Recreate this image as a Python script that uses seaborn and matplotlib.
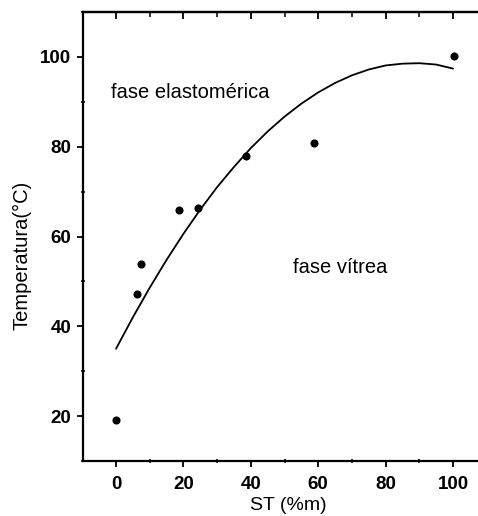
import matplotlib
matplotlib.use("Agg")
import matplotlib.pyplot as plt
from matplotlib.ticker import MultipleLocator
import pandas as pd
import seaborn as sns

# measured points
st_pct = [0, 6.2, 7.4, 18.7, 24.3, 38.6, 58.8, 100.3]
temp_c = [19.1, 47.1, 53.8, 66.0, 66.4, 78.0, 80.9, 100.2]

# fitted curve
curve_x = [0, 5, 10, 15, 20, 25, 30, 35, 40, 45, 50, 55, 60, 65, 70, 75, 80, 85, 90, 95, 100]
curve_y = [35.0, 42.0, 48.6, 54.8, 60.6, 66.0, 71.0, 75.5, 79.7, 83.4, 86.7, 89.6, 92.1, 94.2, 95.9, 97.2, 98.1, 98.5, 98.6, 98.3, 97.4]


def main():
    sns.set_style("ticks", {"axes.edgecolor": "black", "text.color": "black",
                            "xtick.color": "black", "ytick.color": "black",
                            "axes.labelcolor": "black"})
    plt.rcParams["font.family"] = ["Liberation Sans", "DejaVu Sans"]

    pts = pd.DataFrame({"st": st_pct, "temp": temp_c})
    fit = pd.DataFrame({"st": curve_x, "temp": curve_y})

    fig = plt.figure(figsize=(4.78, 5.16), dpi=100)
    ax = fig.add_axes([0.1736, 0.1066, 0.8264, 0.8701])

    sns.lineplot(data=fit, x="st", y="temp", color="black", linewidth=1.3, ax=ax)
    sns.scatterplot(data=pts, x="st", y="temp", color="black", s=34,
                    edgecolor="black", linewidth=0, ax=ax)

    ax.set_xlim(-9.8, 107.4)
    ax.set_ylim(10, 110)

    ax.xaxis.set_major_locator(MultipleLocator(20))
    ax.xaxis.set_minor_locator(MultipleLocator(10))
    ax.yaxis.set_major_locator(MultipleLocator(20))
    ax.yaxis.set_minor_locator(MultipleLocator(10))
    ax.set_xticks(range(0, 101, 20))
    ax.set_yticks(range(20, 101, 20))

    ax.tick_params(axis="both", which="major", direction="out", length=4.5,
                   width=1.3, labelsize=13.5, pad=4)
    ax.tick_params(axis="both", which="minor", direction="inout", length=3.5, width=1.1)
    ax.tick_params(axis="x", which="major", pad=6)
    # top axis: ticks pointing into the plot, no labels
    top = ax.secondary_xaxis("top")
    top.set_xticks(range(0, 101, 20))
    top.xaxis.set_minor_locator(MultipleLocator(10))
    top.tick_params(which="major", direction="in", length=5, width=1.3, labeltop=False)
    top.tick_params(which="minor", direction="in", length=3.5, width=1.1)
    top.set_xticklabels([])
    top.spines["top"].set_linewidth(1.6)

    for t in ax.get_xticklabels() + ax.get_yticklabels():
        t.set_fontweight("bold")

    for side in ["left", "bottom", "top"]:
        ax.spines[side].set_linewidth(1.6)
    ax.spines["right"].set_visible(False)

    ax.set_xlabel("ST (%m)", fontsize=14)
    ax.xaxis.set_label_coords(0.519, -0.081)
    ax.set_ylabel("Temperatura(°C)", fontsize=14.5)
    ax.yaxis.set_label_coords(-0.13, 0.458)

    ax.text(-1.5, 92, "fase elastomérica", fontsize=14.5, va="center", ha="left")
    ax.text(52.5, 53, "fase vítrea", fontsize=14.5, va="center", ha="left")

    fig.savefig("out.png", dpi=100)
    plt.close(fig)


if __name__ == "__main__":
    main()
